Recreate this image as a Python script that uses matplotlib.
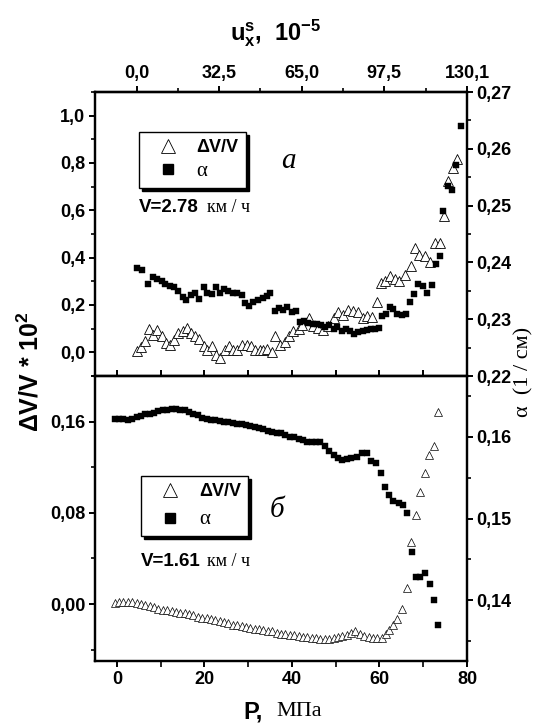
import matplotlib
matplotlib.use('Agg')
import matplotlib.pyplot as plt
from matplotlib.ticker import MultipleLocator, FuncFormatter, FixedLocator, NullLocator
from matplotlib.lines import Line2D

plt.rcParams['font.family'] = ['Liberation Sans', 'DejaVu Sans']
plt.rcParams['font.weight'] = 'bold'
plt.rcParams['mathtext.fontset'] = 'custom'
plt.rcParams['mathtext.bf'] = 'Liberation Sans:bold'
plt.rcParams['mathtext.rm'] = 'Liberation Sans:bold'
plt.rcParams['mathtext.it'] = 'Liberation Sans:bold'

# ---------------- data ----------------
# top panel (V = 2.78 km/h)
P_top_dv = [4.5, 5.4, 6.4, 7.4, 8.3, 9.2, 10.2, 11.2, 12.1, 13.1,
            14.0, 15.0, 16.1, 16.9, 17.9, 18.8, 19.8, 20.7, 21.7, 22.7,
            23.6, 24.7, 25.7, 26.6, 27.5, 28.5, 29.7, 30.6, 31.6, 32.6,
            33.5, 34.4, 35.4, 36.1, 37.3, 38.4, 39.4, 40.3, 41.5, 42.2,
            43.8, 44.9, 46.0, 47.0, 48.3, 49.5, 50.6, 51.7, 52.9, 54.0,
            55.0, 56.3, 57.1, 58.2, 59.4, 60.3, 61.3, 62.4, 63.6, 64.5,
            65.8, 67.1, 68.1, 69.1, 70.4, 71.6, 72.7, 73.8,
            74.7, 75.7, 76.7, 77.8]
dv_top = [0.004, 0.023, 0.047, 0.099, 0.075, 0.096, 0.071, 0.040, 0.033, 0.054,
          0.082, 0.089, 0.103, 0.082, 0.071, 0.057, 0.025, 0.011, 0.025, -0.010,
          -0.024, 0.011, 0.025, 0.011, 0.011, 0.033, 0.033, 0.025, 0.008, 0.011,
          0.011, 0.014, 0.000, 0.071, 0.033, 0.042, 0.068, 0.089, 0.099, 0.117,
          0.145, 0.110, 0.103, 0.096, 0.110, 0.145, 0.169, 0.159, 0.180, 0.173,
          0.169, 0.145, 0.152, 0.149, 0.211, 0.293, 0.300, 0.321, 0.310, 0.300,
          0.328, 0.363, 0.441, 0.413, 0.409, 0.380, 0.462, 0.462,
          0.575, 0.722, 0.779, 0.818]

P_top_a = [4.5, 5.7, 7.2, 8.2, 9.1, 10.2, 11.0, 12.1, 13.0, 14.0,
           15.0, 15.9, 16.9, 17.8, 18.8, 19.8, 20.7, 21.7, 22.6, 23.6,
           24.5, 25.5, 26.5, 27.4, 28.5, 29.3, 30.3, 31.2, 32.3, 33.3,
           34.2, 35.1, 36.1, 37.1, 38.0, 38.9, 39.9, 40.9, 41.8, 42.8,
           43.7, 44.7, 45.7, 46.6, 47.6, 48.5, 49.5, 50.4, 51.4, 52.4,
           53.3, 54.2, 55.2, 56.2, 57.1, 58.0, 59.0, 59.8, 60.5, 61.5,
           62.3, 63.2, 64.1, 65.1, 66.1, 67.0, 67.9, 68.9, 69.9, 70.8,
           71.9, 72.9, 73.8, 74.6, 75.7, 76.6, 77.6, 78.6]
a_top = [0.2391, 0.2387, 0.2362, 0.2374, 0.2371, 0.2368, 0.2362, 0.2359, 0.2356, 0.2350,
         0.2339, 0.2334, 0.2343, 0.2346, 0.2336, 0.2357, 0.2346, 0.2344, 0.2357, 0.2346,
         0.2353, 0.2349, 0.2347, 0.2346, 0.2343, 0.2328, 0.2324, 0.2330, 0.2334, 0.2337,
         0.2340, 0.2346, 0.2315, 0.2320, 0.2316, 0.2322, 0.2312, 0.2314, 0.2295, 0.2296,
         0.2293, 0.2292, 0.2292, 0.2289, 0.2287, 0.2289, 0.2283, 0.2286, 0.2280, 0.2283,
         0.2280, 0.2274, 0.2277, 0.2280, 0.2281, 0.2282, 0.2283, 0.2285, 0.2306, 0.2309,
         0.2322, 0.2318, 0.2309, 0.2308, 0.2309, 0.2330, 0.2344, 0.2362, 0.2359, 0.2347,
         0.2361, 0.2397, 0.2412, 0.2491, 0.2535, 0.2528, 0.2571, 0.2641]

# bottom panel (V = 1.61 km/h)
P_bot_dv = [-0.5, 0.5, 1.5, 2.5, 3.5, 4.5, 5.5, 6.5, 7.5, 8.5,
            9.5, 10.5, 11.5, 12.5, 13.5, 14.5, 15.5, 16.5, 17.5, 18.5,
            19.5, 20.5, 21.5, 22.5, 23.5, 24.5, 25.5, 26.5, 27.5, 28.5,
            29.5, 30.5, 31.5, 32.5, 33.5, 34.5, 35.5, 36.5, 37.5, 38.5,
            39.5, 40.5, 41.5, 42.5, 43.5, 44.5, 45.5, 46.5, 47.5, 48.5,
            49.5, 50.5, 51.5, 52.5, 53.5, 54.5, 55.5, 56.5, 57.5, 58.5,
            59.5, 60.5, 61.5, 62.2, 63.2, 64.1, 65.2, 66.2, 67.3, 68.3,
            69.3, 70.3, 71.3, 72.5, 73.4]
dv_bot = [0.001, 0.002, 0.002, 0.002, 0.002, 0.001, 0.000, -0.001, -0.002, -0.003,
          -0.004, -0.005, -0.005, -0.006, -0.007, -0.008, -0.008, -0.009, -0.010, -0.011,
          -0.012, -0.012, -0.013, -0.014, -0.015, -0.016, -0.017, -0.018, -0.018, -0.019,
          -0.020, -0.021, -0.022, -0.022, -0.023, -0.024, -0.024, -0.025, -0.026, -0.026,
          -0.027, -0.027, -0.028, -0.029, -0.029, -0.030, -0.030, -0.031, -0.031, -0.031,
          -0.030, -0.029, -0.028, -0.027, -0.025, -0.024, -0.026, -0.028, -0.029, -0.030,
          -0.030, -0.030, -0.026, -0.023, -0.018, -0.013, -0.004, 0.014, 0.054, 0.078,
          0.098, 0.115, 0.131, 0.139, 0.168]

P_bot_a = [-0.5, 0.5, 1.5, 2.5, 3.5, 4.5, 5.5, 6.5, 7.5, 8.5,
           9.5, 10.5, 11.5, 12.5, 13.5, 14.5, 15.5, 16.5, 17.5, 18.5,
           19.5, 20.5, 21.5, 22.5, 23.5, 24.5, 25.5, 26.5, 27.5, 28.5,
           29.5, 30.5, 31.5, 32.5, 33.5, 34.5, 35.5, 36.5, 37.5, 38.5,
           39.5, 40.5, 41.5, 42.5, 43.5, 44.5, 45.5, 46.5, 47.5, 48.5,
           49.5, 50.5, 51.5, 52.5, 53.5, 54.9, 56.1, 57.1, 58.1, 59.1,
           60.3, 61.3, 62.2, 63.2, 64.5, 65.4, 66.4, 67.4, 68.3, 69.3,
           70.3, 71.5, 72.5, 73.4]
a_bot = [0.1622, 0.1621, 0.1621, 0.1620, 0.1622, 0.1624, 0.1625, 0.1627, 0.1628, 0.1629,
         0.1631, 0.1632, 0.1633, 0.1634, 0.1634, 0.1633, 0.1632, 0.1630, 0.1628, 0.1626,
         0.1623, 0.1621, 0.1620, 0.1620, 0.1619, 0.1618, 0.1618, 0.1617, 0.1616, 0.1615,
         0.1614, 0.1613, 0.1612, 0.1610, 0.1609, 0.1607, 0.1606, 0.1605, 0.1604, 0.1602,
         0.1600, 0.1599, 0.1597, 0.1596, 0.1594, 0.1593, 0.1593, 0.1594, 0.1588, 0.1582,
         0.1577, 0.1574, 0.1572, 0.1573, 0.1574, 0.1575, 0.1580, 0.1580, 0.1570, 0.1568,
         0.1556, 0.1539, 0.1529, 0.1521, 0.1519, 0.1517, 0.1507, 0.1459, 0.1429, 0.1429,
         0.1434, 0.1420, 0.1400, 0.1370]

u_ticks = [0.0, 32.5, 65.0, 97.5, 130.1]
u_tick_labels = ['0,0', '32,5', '65,0', '97,5', '130,1']
u_minor = [16.25, 48.75, 81.25, 113.8]
P_at_u0 = 4.5       # pressure where u = 0
P_at_umax = 80.0    # pressure where u = 130.1

# ---------------- figure ----------------
W, H = 554, 725
fig = plt.figure(figsize=(W / 100, H / 100), dpi=100)

def frame(x0, y0, x1, y1):
    return [x0 / W, 1 - y1 / H, (x1 - x0) / W, (y1 - y0) / H]

ax1 = fig.add_axes(frame(95, 92, 467, 376))
ax2 = fig.add_axes(frame(95, 376, 467, 661))
ax1r = ax1.twinx()
ax2r = ax2.twinx()

SPW = 1.6
for a in (ax1, ax2, ax1r, ax2r):
    for s in a.spines.values():
        s.set_linewidth(SPW)

def comma(fmt):
    def f(v, pos):
        if abs(v) < 1e-9:
            v = 0.0
        return (fmt % v).replace('.', ',')
    return FuncFormatter(f)

TL = 13
tick_kw = dict(width=1.4, labelsize=TL, pad=2.5)

# ----- top panel -----
ax1.plot(P_top_dv, dv_top, ls='none', marker='^', ms=7, mfc='white',
         mec='black', mew=0.6)
ax1r.plot(P_top_a, a_top, ls='none', marker='s', ms=4.6, color='black', mew=0.3)
ax1.set_xlim(-5, 80)
ax1.set_ylim(-0.1, 1.1)
ax1r.set_ylim(0.22, 0.27)

ax1.yaxis.set_major_locator(MultipleLocator(0.2))
ax1.yaxis.set_minor_locator(MultipleLocator(0.1))
ax1.yaxis.set_major_formatter(comma('%.1f'))
ax1.tick_params(axis='y', which='major', direction='out', length=4.5, **tick_kw)
ax1.tick_params(axis='y', which='minor', direction='out', length=3, width=1.2)
ax1.xaxis.set_major_locator(MultipleLocator(10))
ax1.xaxis.set_minor_locator(NullLocator())
ax1.tick_params(axis='x', which='both', direction='in', length=4.5, width=1.4,
                bottom=True, top=False, labelbottom=False)

ax1r.yaxis.set_major_locator(MultipleLocator(0.01))
ax1r.yaxis.set_minor_locator(MultipleLocator(0.005))
ax1r.yaxis.set_major_formatter(comma('%.2f'))
ax1r.tick_params(axis='y', which='major', direction='out', length=4.5, **tick_kw)
ax1r.tick_params(axis='y', which='minor', direction='out', length=3, width=1.2)

k = (P_at_umax - P_at_u0) / u_ticks[-1]
sec = ax1.secondary_xaxis('top', functions=(lambda p: (p - P_at_u0) / k,
                                             lambda u: P_at_u0 + u * k))
sec.set_xticks(u_ticks)
sec.set_xticklabels(u_tick_labels)
sec.xaxis.set_minor_locator(FixedLocator(u_minor))
sec.tick_params(axis='x', which='major', direction='out', length=4.5, **tick_kw)
sec.tick_params(axis='x', which='minor', direction='out', length=3, width=1.2)
sec.spines['top'].set_linewidth(SPW)

# ----- bottom panel -----
ax2.plot(P_bot_dv, dv_bot, ls='none', marker='^', ms=5.5, mfc='white',
         mec='black', mew=0.5)
ax2r.plot(P_bot_a, a_bot, ls='none', marker='s', ms=4.0, color='black', mew=0.3)
ax2.set_xlim(-5, 80)
ax2.set_ylim(-0.05, 0.2)
ax2r.set_ylim(0.1326, 0.1674)

ax2.xaxis.set_major_locator(MultipleLocator(20))
ax2.xaxis.set_minor_locator(MultipleLocator(10))
ax2.xaxis.set_major_formatter(FuncFormatter(lambda v, p: '%d' % round(v)))
ax2.tick_params(axis='x', which='major', direction='out', length=4.5, **tick_kw)
ax2.tick_params(axis='x', which='minor', direction='out', length=4, width=1.2)
ax2.yaxis.set_major_locator(MultipleLocator(0.08))
ax2.yaxis.set_minor_locator(MultipleLocator(0.04))
ax2.yaxis.set_major_formatter(comma('%.2f'))
ax2.tick_params(axis='y', which='major', direction='out', length=4.5, **tick_kw)
ax2.tick_params(axis='y', which='minor', direction='out', length=3, width=1.2)

ax2r.yaxis.set_major_locator(MultipleLocator(0.01))
ax2r.yaxis.set_minor_locator(MultipleLocator(0.005))
ax2r.yaxis.set_major_formatter(comma('%.2f'))
ax2r.tick_params(axis='y', which='major', direction='out', length=4.5, **tick_kw)
ax2r.tick_params(axis='y', which='minor', direction='out', length=3, width=1.2)

# ----- legends -----
def make_legend(ax, anchor, spacing):
    h1 = Line2D([], [], ls='none', marker='^', ms=10, mfc='white', mec='black', mew=0.6)
    h2 = Line2D([], [], ls='none', marker='s', ms=7.5, color='black')
    leg = ax.legend([h1, h2], ['ΔV/V', 'α'], loc='upper left',
                    bbox_to_anchor=anchor, borderaxespad=0, fontsize=13,
                    handlelength=2.4, handletextpad=0.4, borderpad=0.4,
                    labelspacing=spacing, fancybox=False, framealpha=1,
                    edgecolor='black',
                    shadow={'color': 'black', 'alpha': 1})
    leg.get_frame().set_linewidth(1.0)
    t = leg.get_texts()
    t[0].set_fontweight('bold')
    t[1].set_fontfamily('Liberation Serif')
    t[1].set_fontweight('normal')
    t[1].set_fontsize(15)
    return leg

make_legend(ax1r, (0.118, 0.859), 0.3)
make_legend(ax2r, (0.124, 0.649), 0.55)

# speed annotations
ax1r.text(0.118, 0.592, 'V=2.78', transform=ax1r.transAxes, ha='left', va='center',
          fontsize=13.5, fontweight='bold')
ax1r.text(0.300, 0.592, 'км / ч', transform=ax1r.transAxes, ha='left', va='center',
          fontsize=13, family='Liberation Serif', fontweight='normal')
ax2r.text(0.124, 0.348, 'V=1.61', transform=ax2r.transAxes, ha='left', va='center',
          fontsize=13.5, fontweight='bold')
ax2r.text(0.300, 0.348, 'км / ч', transform=ax2r.transAxes, ha='left', va='center',
          fontsize=13, family='Liberation Serif', fontweight='normal')

ax1r.text(0.519, 0.757, 'а', transform=ax1r.transAxes, ha='center', va='center',
          fontsize=21, family='Liberation Serif', style='italic', fontweight='normal')
ax2r.text(0.489, 0.530, 'б', transform=ax2r.transAxes, ha='center', va='center',
          fontsize=21, family='Liberation Serif', style='italic', fontweight='normal')

# ----- axis titles -----
fig.text(30 / W, 1 - 372 / H, r'ΔV/V * 10$^{\mathbf{2}}$', rotation=90, ha='center',
         va='center', fontsize=18, fontweight='bold')
fig.text(524 / W, 1 - 372 / H, 'α  (1 / см)', rotation=90, ha='center', va='center',
         fontsize=16, family='Liberation Serif', fontweight='normal')
fig.text(276 / W, 1 - 33 / H, r'$\mathbf{u_x^s}$,  $\mathbf{10^{-5}}$',
         ha='center', va='center', fontsize=17, fontweight='bold')
fig.text(263 / W, 1 - 712 / H, 'P,', ha='right', va='center', fontsize=17,
         fontweight='bold')
fig.text(276 / W, 1 - 712 / H, 'МПа', ha='left', va='center', fontsize=16,
         family='Liberation Serif', fontweight='normal')

fig.savefig('out.png', dpi=100)
